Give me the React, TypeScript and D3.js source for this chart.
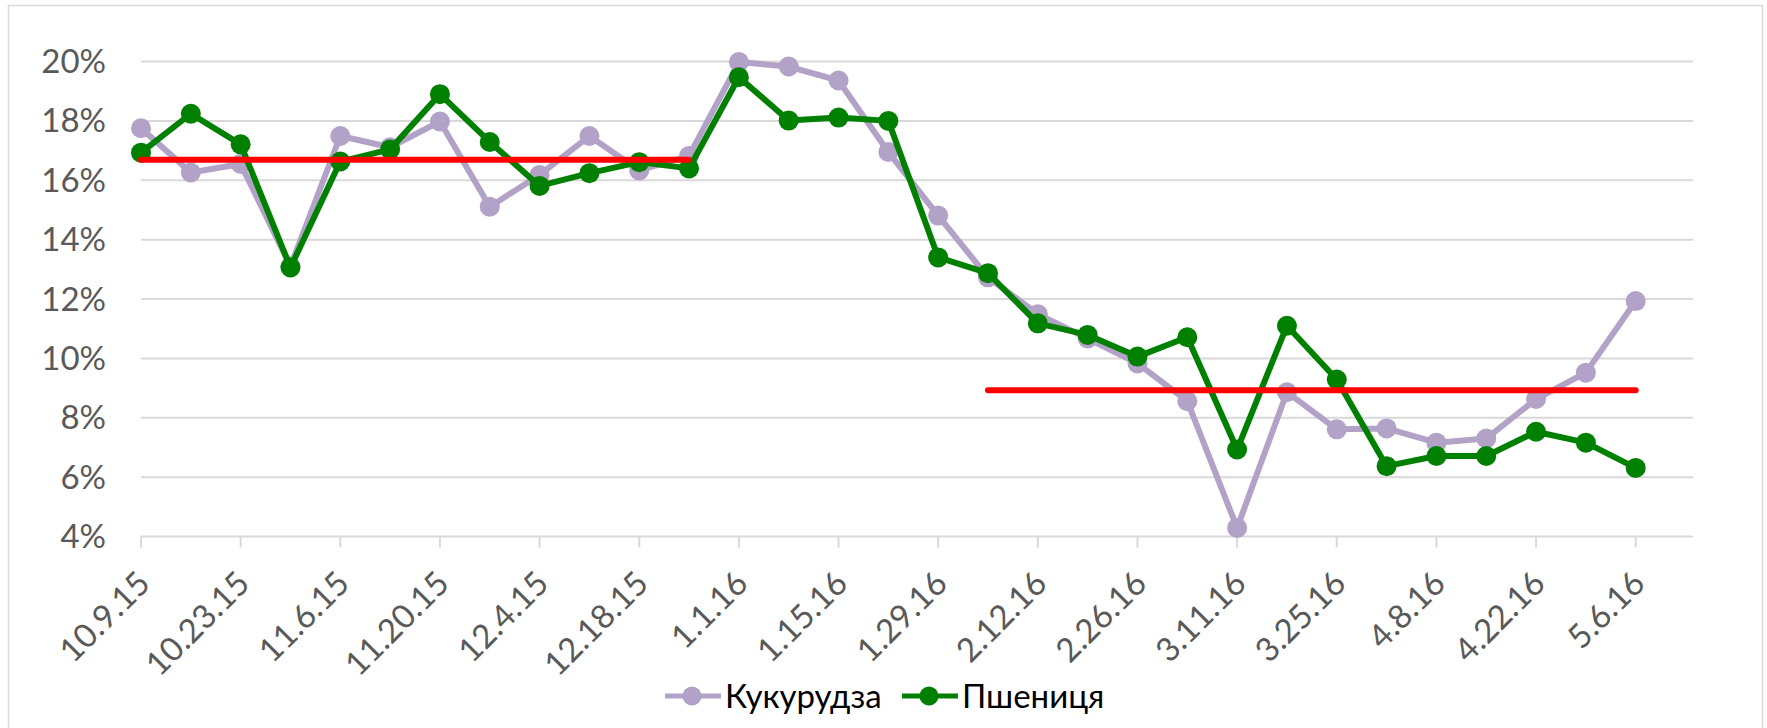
import React, { useRef, useEffect } from 'react';
import { scaleLinear, select, line } from 'd3';

const width = 1767;
const height = 728;
const plotLeft = 141;
const plotRight = 1693;
const plotTop = 61.5;
const plotBottom = 536.5;
const fontFamily = 'Lato, "Open Sans", sans-serif';

// weekly dates, M.D.YY
const dates = [
    '10.9.15', '10.16.15', '10.23.15', '10.30.15', '11.6.15', '11.13.15', '11.20.15', '11.27.15',
    '12.4.15', '12.11.15', '12.18.15', '12.25.15', '1.1.16', '1.8.16', '1.15.16', '1.22.16',
    '1.29.16', '2.5.16', '2.12.16', '2.19.16', '2.26.16', '3.4.16', '3.11.16', '3.18.16',
    '3.25.16', '4.1.16', '4.8.16', '4.15.16', '4.22.16', '4.29.16', '5.6.16'
];

const corn = [
    17.75, 16.26, 16.55, 13.10, 17.49, 17.11, 17.98, 15.11, 16.18, 17.49, 16.33, 16.82,
    19.98, 19.83, 19.36, 16.95, 14.81, 12.73, 11.49, 10.67, 9.83, 8.56, 4.29, 8.86,
    7.61, 7.64, 7.16, 7.30, 8.63, 9.52, 11.93
];

const wheat = [
    16.93, 18.24, 17.21, 13.06, 16.63, 17.04, 18.90, 17.29, 15.81, 16.24, 16.61, 16.40,
    19.47, 18.01, 18.11, 18.00, 13.40, 12.87, 11.18, 10.79, 10.06, 10.71, 6.93, 11.10,
    9.29, 6.37, 6.71, 6.71, 7.53, 7.16, 6.31
];

const seriesNames = ['Кукурудза', 'Пшениця'];
const seriesColors = ['#b3a2c7', '#008000'];

const yTicks = [4, 6, 8, 10, 12, 14, 16, 18, 20];
const xTickEvery = 2;

// red average lines
const averageFrom = ['10.9.15', '2.5.16'];
const averageTo = ['12.25.15', '5.6.16'];
const averageValue = [16.69, 8.93];

const draw = (element) => {
    const x = scaleLinear([0, 31.15], [plotLeft, plotRight]);
    const y = scaleLinear([4, 20], [plotBottom, plotTop]);
    const svg = select(element);
    svg.selectAll('*').remove();

    // frame
    svg.append('rect')
        .attr('x', 8.5).attr('y', 5.5)
        .attr('width', 1754).attr('height', 760)
        .attr('fill', 'white')
        .attr('stroke', '#d9d9d9').attr('stroke-width', 1.5);

    // grid
    svg.append('g').selectAll('line').data(yTicks).join('line')
        .attr('x1', plotLeft).attr('x2', plotRight)
        .attr('y1', d => y(d)).attr('y2', d => y(d))
        .attr('stroke', '#d9d9d9').attr('stroke-width', 2);

    svg.append('g').selectAll('text').data(yTicks).join('text')
        .attr('x', 106).attr('y', d => y(d) + 11.5)
        .attr('text-anchor', 'end')
        .attr('font-family', fontFamily).attr('font-size', 33)
        .attr('fill', '#595959')
        .text(d => `${d}%`);

    // x ticks + labels
    const tickIdx = dates.map((d, i) => i).filter(i => i % xTickEvery == 0);
    svg.append('g').selectAll('line').data(tickIdx).join('line')
        .attr('x1', d => x(d)).attr('x2', d => x(d))
        .attr('y1', plotBottom).attr('y2', plotBottom + 11)
        .attr('stroke', '#d9d9d9').attr('stroke-width', 2);

    svg.append('g').selectAll('text').data(tickIdx).join('text')
        .attr('transform', d => `translate(${x(d) + 11} ${plotBottom + 49}) rotate(-45)`)
        .attr('text-anchor', 'end')
        .attr('font-family', fontFamily).attr('font-size', 33)
        .attr('fill', '#595959')
        .text(d => dates[d]);

    // series
    [corn, wheat].forEach((values, s) => {
        const g = svg.append('g');
        g.append('path')
            .attr('d', line()(values.map((v, i) => [x(i), y(v)])))
            .attr('fill', 'none')
            .attr('stroke', seriesColors[s]).attr('stroke-width', 6)
            .attr('stroke-linejoin', 'round');
        g.selectAll('circle').data(values).join('circle')
            .attr('cx', (d, i) => x(i)).attr('cy', d => y(d))
            .attr('r', 10)
            .attr('fill', seriesColors[s]);
    });

    // averages
    svg.append('g').selectAll('line').data(averageValue).join('line')
        .attr('x1', (d, i) => x(dates.indexOf(averageFrom[i])))
        .attr('x2', (d, i) => x(dates.indexOf(averageTo[i])))
        .attr('y1', d => y(d)).attr('y2', d => y(d))
        .attr('stroke', '#ff0000').attr('stroke-width', 6)
        .attr('stroke-linecap', 'round');

    // legend
    const legendX = [665, 902];
    const legend = svg.append('g').selectAll('g').data(seriesNames).join('g')
        .attr('transform', (d, i) => `translate(${legendX[i]} 696)`);
    legend.append('line')
        .attr('x1', 0).attr('x2', 56)
        .attr('stroke', (d, i) => seriesColors[i]).attr('stroke-width', 5);
    legend.append('circle')
        .attr('cx', 27).attr('r', 9.5)
        .attr('fill', (d, i) => seriesColors[i]);
    legend.append('text')
        .attr('x', 60).attr('y', 12)
        .attr('font-family', fontFamily).attr('font-size', 33)
        .attr('fill', '#000')
        .text(d => d);
};

const App = () => {
    const ref = useRef(null);

    useEffect(() => {
        if (ref.current) draw(ref.current);
    }, []);

    return (
        <svg ref={ref} width={width} height={height}
            style={{ position: 'absolute', left: 0, top: 0, background: 'white' }} />
    );
};

export default App;
